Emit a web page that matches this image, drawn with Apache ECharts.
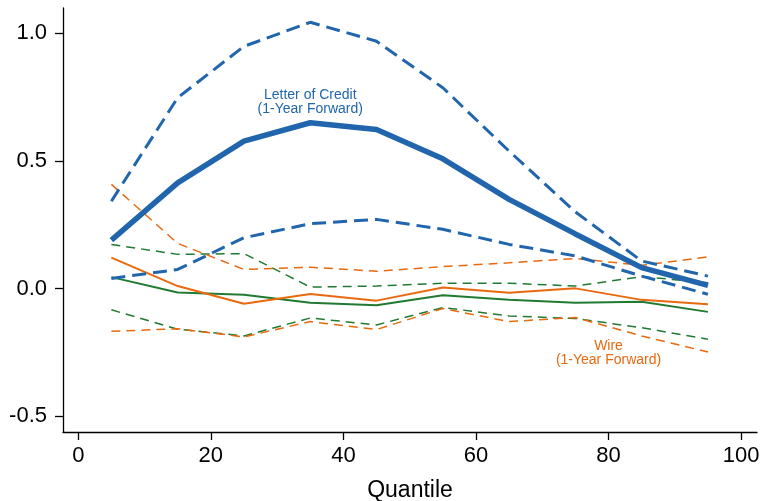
<!DOCTYPE html>
<html>
<head>
<meta charset="utf-8">
<script src="https://cdn.jsdelivr.net/npm/echarts@6/dist/echarts.min.js"></script>
<style>
  html, body { margin: 0; padding: 0; background: #fff; }
  #chart { width: 763px; height: 501px; }
</style>
</head>
<body>
<div id="chart"></div>
<script>
// quantile midpoints
const quantiles = [5, 15, 25, 35, 45, 55, 65, 75, 85, 95];

// letter of credit
const locEst   = [0.190, 0.414, 0.577, 0.649, 0.623, 0.508, 0.349, 0.214, 0.082, 0.013];
const locUpper = [0.342, 0.747, 0.948, 1.042, 0.968, 0.786, 0.538, 0.300, 0.108, 0.049];
const locLower = [0.040, 0.075, 0.199, 0.254, 0.271, 0.232, 0.173, 0.128, 0.049, -0.022];

// wire
const wireEst   = [0.121, 0.010, -0.059, -0.021, -0.047, 0.004, -0.016, 0.001, -0.044, -0.061];
const wireUpper = [0.408, 0.177, 0.075, 0.084, 0.068, 0.086, 0.101, 0.118, 0.091, 0.124];
const wireLower = [-0.167, -0.157, -0.189, -0.129, -0.160, -0.078, -0.129, -0.113, -0.185, -0.248];

// third group (green, unlabelled)
const otherEst   = [0.045, -0.015, -0.024, -0.055, -0.065, -0.026, -0.044, -0.055, -0.051, -0.091];
const otherUpper = [0.173, 0.134, 0.137, 0.006, 0.010, 0.021, 0.021, 0.010, 0.047, 0.023];
const otherLower = [-0.083, -0.159, -0.185, -0.115, -0.142, -0.074, -0.107, -0.117, -0.153, -0.198];

const xTicks = [0, 20, 40, 60, 80, 100];
const yTicks = [-0.5, 0, 0.5, 1.0];

const BLUE = '#2166ac';
const ORANGE = '#e8690f';
const GREEN = '#217a32';
const FONT = 'Liberation Sans, Arial, sans-serif';

function pts(ys) { return quantiles.map((q, i) => [q, ys[i]]); }

function line(ys, color, width, dash, label) {
  const s = {
    type: 'line',
    data: pts(ys),
    showSymbol: false,
    symbol: 'none',
    silent: true,
    lineStyle: { color: color, width: width, type: dash || 'solid' }
  };
  if (label) {
    s.markPoint = {
      symbol: 'circle',
      symbolSize: 1,
      silent: true,
      itemStyle: { color: 'rgba(0,0,0,0)' },
      data: [{
        coord: label.at,
        label: {
          show: true,
          position: 'inside',
          formatter: label.text,
          color: color,
          fontFamily: FONT,
          fontSize: 14,
          lineHeight: 14,
          align: 'center',
          verticalAlign: 'middle'
        }
      }]
    };
  }
  return s;
}

const chart = echarts.init(document.getElementById('chart'));
chart.setOption({
  animation: false,
  backgroundColor: '#fff',
  grid: { left: 63, right: 6, top: 8, bottom: 69, containLabel: false, outerBoundsMode: 'none' },
  xAxis: {
    type: 'value',
    min: -2.3,
    max: 102.4,
    name: 'Quantile',
    nameLocation: 'middle',
    nameGap: 47,
    nameTextStyle: { color: '#000', fontFamily: FONT, fontSize: 23 },
    axisLine: { show: true, onZero: false, lineStyle: { color: '#000', width: 1.3 } },
    axisTick: { show: true, customValues: xTicks, length: 8, lineStyle: { color: '#000', width: 1.3 } },
    axisLabel: { customValues: xTicks, color: '#000', fontFamily: FONT, fontSize: 22, margin: 13 },
    splitLine: { show: false }
  },
  yAxis: {
    type: 'value',
    min: -0.561,
    max: 1.098,
    axisLine: { show: true, onZero: false, lineStyle: { color: '#000', width: 1.3 } },
    axisTick: { show: true, customValues: yTicks, length: 8, lineStyle: { color: '#000', width: 1.3 } },
    axisLabel: {
      customValues: yTicks,
      color: '#000', fontFamily: FONT, fontSize: 22, margin: 16,
      formatter: v => v.toFixed(1)
    },
    splitLine: { show: false }
  },
  series: [
    line(otherUpper, GREEN, 1.5, [9, 6]),
    line(otherLower, GREEN, 1.5, [9, 6]),
    line(otherEst, GREEN, 2),
    line(wireUpper, ORANGE, 1.5, [9, 6]),
    line(wireLower, ORANGE, 1.5, [9, 6]),
    line(wireEst, ORANGE, 2, null, { at: [80, -0.252], text: 'Wire\n(1-Year Forward)' }),
    line(locUpper, BLUE, 3, [14, 7]),
    line(locLower, BLUE, 3, [14, 7]),
    line(locEst, BLUE, 5.5, null, { at: [35, 0.728], text: 'Letter of Credit\n(1-Year Forward)' })
  ]
});
</script>
</body>
</html>
